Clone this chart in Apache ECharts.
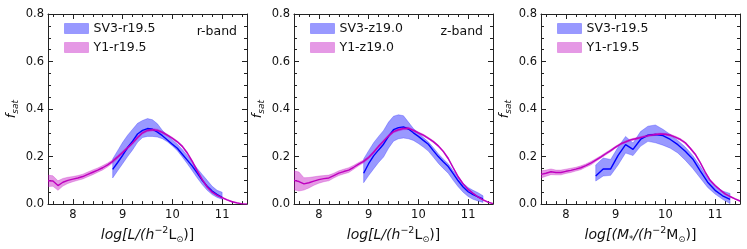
<!DOCTYPE html>
<html><head><meta charset="utf-8">
<script src="https://cdn.jsdelivr.net/npm/echarts@6/dist/echarts.min.js"></script>
<style>html,body{margin:0;padding:0;background:#fff}#c{width:747px;height:249px}</style>
</head><body><div id="c"></div>
<script>
// ---- tick labels ----
const xMajorTicks = [8, 9, 10, 11];
const xMinorTicks = [7.6,7.8,8.2,8.4,8.6,8.8,9.2,9.4,9.6,9.8,10.2,10.4,10.6,10.8,11.2,11.4];
const yTickLabels = [0, 0.2, 0.4, 0.6, 0.8];

const legendNames = [['SV3-r19.5','Y1-r19.5'], ['SV3-z19.0','Y1-z19.0'], ['SV3-r19.5','Y1-r19.5']];
const bandLabels = ['r-band', 'z-band', ''];

// ---- Y1 x grid (shared) ----
const y1X = [7.5,7.6,7.7,7.8,7.9,8.0,8.1,8.2,8.3,8.4,8.5,8.6,8.7,8.8,8.9,9.0,9.1,9.2,9.3,9.4,9.5,9.6,9.7,9.8,9.9,10.0,10.1,10.2,10.3,10.4,10.5,10.6,10.7,10.8,10.9,11.0,11.1,11.2,11.3,11.4,11.5];

// ---- Panel 1: r-band luminosity ----
const p1SV3x  = [8.8,8.9,9.0,9.1,9.2,9.3,9.4,9.5,9.6,9.7,9.8,9.9,10.0,10.1,10.2,10.3,10.4,10.5,10.6,10.7,10.8,10.9,11.0];
const p1SV3mid= [0.146,0.175,0.205,0.238,0.265,0.295,0.31,0.318,0.315,0.303,0.288,0.27,0.252,0.235,0.21,0.185,0.16,0.13,0.1,0.075,0.055,0.04,0.028];
const p1SV3hi = [0.19,0.225,0.26,0.29,0.315,0.34,0.352,0.36,0.355,0.338,0.31,0.29,0.27,0.252,0.23,0.205,0.178,0.15,0.125,0.1,0.075,0.058,0.05];
const p1SV3lo = [0.11,0.14,0.17,0.2,0.228,0.26,0.28,0.285,0.285,0.282,0.275,0.262,0.245,0.225,0.198,0.17,0.14,0.11,0.082,0.058,0.04,0.028,0.02];
const p1Y1mid = [0.098,0.097,0.078,0.092,0.1,0.105,0.11,0.116,0.125,0.134,0.143,0.153,0.165,0.18,0.198,0.217,0.237,0.257,0.28,0.3,0.31,0.313,0.31,0.302,0.29,0.277,0.262,0.243,0.215,0.18,0.14,0.103,0.072,0.05,0.037,0.027,0.018,0.01,0.005,0.001,0.0];
const p1Y1err = [0.024,0.022,0.02,0.016,0.013,0.011,0.01,0.01,0.01,0.01,0.009,0.009,0.008,0.007,0.006,0.006,0.005,0.005,0.005,0.005,0.005,0.005,0.005,0.005,0.004,0.004,0.004,0.004,0.004,0.004,0.004,0.004,0.003,0.003,0.003,0.003,0.002,0.002,0.002,0.001,0.001];

// ---- Panel 2: z-band luminosity ----
const p2SV3x  = [8.9,9.0,9.1,9.2,9.3,9.4,9.5,9.6,9.7,9.8,9.9,10.0,10.1,10.2,10.3,10.4,10.5,10.6,10.7,10.8,10.9,11.0,11.1,11.2,11.3];
const p2SV3mid= [0.13,0.17,0.203,0.228,0.252,0.285,0.313,0.322,0.325,0.316,0.3,0.285,0.268,0.252,0.225,0.2,0.178,0.158,0.128,0.098,0.072,0.052,0.04,0.03,0.022];
const p2SV3hi = [0.19,0.225,0.258,0.285,0.31,0.345,0.37,0.376,0.372,0.345,0.318,0.3,0.28,0.262,0.238,0.212,0.19,0.17,0.14,0.113,0.088,0.07,0.058,0.048,0.035];
const p2SV3lo = [0.09,0.12,0.148,0.175,0.198,0.235,0.265,0.275,0.278,0.275,0.268,0.255,0.24,0.223,0.198,0.172,0.15,0.13,0.1,0.073,0.05,0.032,0.02,0.013,0.007];
const p2Y1mid = [0.1,0.095,0.085,0.09,0.097,0.103,0.107,0.11,0.12,0.13,0.137,0.143,0.155,0.168,0.18,0.196,0.218,0.243,0.265,0.287,0.305,0.313,0.318,0.319,0.31,0.3,0.29,0.277,0.263,0.245,0.222,0.192,0.153,0.115,0.085,0.062,0.045,0.03,0.018,0.008,0.002];
const p2Y1err = [0.04,0.04,0.026,0.022,0.018,0.015,0.013,0.012,0.01,0.01,0.01,0.01,0.008,0.007,0.006,0.005,0.005,0.005,0.005,0.005,0.005,0.005,0.005,0.005,0.004,0.004,0.004,0.004,0.004,0.004,0.004,0.004,0.003,0.003,0.003,0.003,0.002,0.002,0.002,0.001,0.001];

// ---- Panel 3: stellar mass ----
const p3SV3x  = [8.6,8.75,8.9,9.05,9.2,9.35,9.5,9.65,9.8,9.95,10.1,10.25,10.4,10.55,10.7,10.85,11.0,11.15,11.3];
const p3SV3mid= [0.118,0.148,0.148,0.205,0.25,0.23,0.272,0.29,0.293,0.288,0.272,0.25,0.222,0.19,0.14,0.092,0.058,0.035,0.02];
const p3SV3hi = [0.165,0.194,0.188,0.24,0.285,0.257,0.305,0.328,0.333,0.315,0.293,0.268,0.24,0.205,0.16,0.11,0.075,0.055,0.045];
const p3SV3lo = [0.097,0.118,0.121,0.165,0.215,0.204,0.243,0.264,0.258,0.248,0.235,0.215,0.185,0.15,0.11,0.07,0.042,0.02,0.002];
const p3Y1mid = [0.125,0.13,0.136,0.133,0.133,0.138,0.142,0.147,0.153,0.162,0.172,0.185,0.198,0.212,0.225,0.24,0.253,0.262,0.27,0.275,0.28,0.285,0.29,0.293,0.295,0.294,0.29,0.282,0.272,0.258,0.235,0.21,0.175,0.135,0.1,0.078,0.06,0.043,0.032,0.022,0.013];
const p3Y1err = [0.015,0.013,0.012,0.01,0.01,0.009,0.009,0.008,0.008,0.007,0.007,0.006,0.005,0.005,0.005,0.004,0.004,0.004,0.004,0.004,0.004,0.004,0.004,0.004,0.004,0.004,0.004,0.004,0.004,0.004,0.004,0.004,0.004,0.003,0.003,0.003,0.003,0.003,0.002,0.002,0.002];

const panels = [
  {sx:p1SV3x, sm:p1SV3mid, sh:p1SV3hi, sl:p1SV3lo, ym:p1Y1mid, ye:p1Y1err},
  {sx:p2SV3x, sm:p2SV3mid, sh:p2SV3hi, sl:p2SV3lo, ym:p2Y1mid, ye:p2Y1err},
  {sx:p3SV3x, sm:p3SV3mid, sh:p3SV3hi, sl:p3SV3lo, ym:p3Y1mid, ye:p3Y1err}
];

const FONT = 'DejaVu Sans';
const AX = '#222';
const TXT = '#111';
const BLUE_FILL = 'rgba(0,0,255,0.4)', BLUE_EDGE = 'rgba(0,0,255,0.25)', BLUE_LINE = '#0000ff';
const MAG_FILL = 'rgba(191,0,191,0.4)', MAG_EDGE = 'rgba(191,0,191,0.25)', MAG_LINE = '#bf00bf';

const gridLefts = [48, 294, 541];
const xNames = [
  '{i|log[L/(h}{sup|−2}{n|L}{sub|⊙}{n|)]}',
  '{i|log[L/(h}{sup|−2}{n|L}{sub|⊙}{n|)]}',
  '{i|log[(M}{sub|*}{i|/(h}{sup|−2}{n|M}{sub|⊙}{n|)]}'
];
const nameRich = {
  i: {fontFamily: FONT, fontStyle: 'italic', fontSize: 14, color: TXT, lineHeight: 18, verticalAlign: 'middle'},
  n: {fontFamily: FONT, fontSize: 14, color: TXT, lineHeight: 18, verticalAlign: 'middle'},
  sup: {fontFamily: FONT, fontSize: 9.5, color: TXT, lineHeight: 18, verticalAlign: 'top'},
  sub: {fontFamily: FONT, fontSize: 8.5, color: TXT, lineHeight: 18, verticalAlign: 'bottom'}
};

const grid = [], xAxis = [], yAxis = [], series = [], legend = [], graphic = [];

function bandSeries(name, xi, yi, xs, lo, hi, fill, edge) {
  return {
    type: 'custom', name, xAxisIndex: xi, yAxisIndex: yi, silent: true, clip: true, z: 2,
    data: xs.map((x, i) => [x, hi[i]]),
    renderItem(params, api) {
      if (params.dataIndex !== 0) return null;
      const pts = [];
      for (let i = 0; i < xs.length; i++) pts.push(api.coord([xs[i], hi[i]]));
      for (let i = xs.length - 1; i >= 0; i--) pts.push(api.coord([xs[i], lo[i]]));
      return {type: 'polygon', shape: {points: pts}, style: {fill, stroke: edge, lineWidth: 1}};
    }
  };
}

panels.forEach((p, g) => {
  grid.push({left: gridLefts[g], top: 14, width: 199, height: 191});
  const xb = {type: 'value', gridIndex: g, min: 7.5, max: 11.5, splitLine: {show: false}};
  xAxis.push(Object.assign({}, xb, {
    position: 'bottom',
    axisLine: {show: true, lineStyle: {color: AX, width: 1}},
    axisTick: {show: true, inside: true, length: 5, customValues: xMajorTicks, lineStyle: {color: AX}},
    axisLabel: {customValues: xMajorTicks, margin: 5, fontFamily: FONT, fontSize: 11.5, color: TXT},
    name: xNames[g], nameLocation: 'middle', nameGap: 14,
    nameTextStyle: {rich: nameRich}
  }));
  xAxis.push(Object.assign({}, xb, {
    position: 'bottom', axisLine: {show: false},
    axisTick: {show: true, inside: true, length: 3, customValues: xMinorTicks, lineStyle: {color: AX}},
    axisLabel: {show: false}
  }));
  xAxis.push(Object.assign({}, xb, {
    position: 'top',
    axisLine: {show: true, lineStyle: {color: AX, width: 1}},
    axisTick: {show: true, inside: true, length: 5, customValues: xMajorTicks, lineStyle: {color: AX}},
    axisLabel: {show: false}
  }));
  xAxis.push(Object.assign({}, xb, {
    position: 'top', axisLine: {show: false},
    axisTick: {show: true, inside: true, length: 3, customValues: xMinorTicks, lineStyle: {color: AX}},
    axisLabel: {show: false}
  }));
  const yb = {type: 'value', gridIndex: g, min: yTickLabels[0], max: yTickLabels[yTickLabels.length - 1], interval: 0.2,
    splitLine: {show: false}, minorSplitLine: {show: false},
    axisLine: {show: true, lineStyle: {color: AX, width: 1}},
    axisTick: {show: true, inside: true, length: 5, lineStyle: {color: AX}},
    minorTick: {show: true, splitNumber: 4, length: 3, lineStyle: {color: AX}}};
  yAxis.push(Object.assign({}, yb, {
    position: 'left',
    axisLabel: {margin: 4, fontFamily: FONT, fontSize: 11.5, color: TXT, formatter: v => v.toFixed(1)},
    name: '{f|f}{s|sat}', nameLocation: 'middle', nameGap: 28, nameRotate: 90,
    nameTextStyle: {rich: {
      f: {fontFamily: FONT, fontStyle: 'italic', fontSize: 13, color: TXT, lineHeight: 16, verticalAlign: 'middle'},
      s: {fontFamily: FONT, fontStyle: 'italic', fontSize: 9, color: TXT, lineHeight: 16, verticalAlign: 'bottom'}
    }}
  }));
  yAxis.push(Object.assign({}, yb, {position: 'right', axisLabel: {show: false}}));

  const xi = 4 * g, yi = 2 * g;
  const y1lo = p.ym.map((v, i) => v - p.ye[i]);
  const y1hi = p.ym.map((v, i) => v + p.ye[i]);
  series.push(bandSeries(legendNames[g][0], xi, yi, p.sx, p.sl, p.sh, BLUE_FILL, BLUE_EDGE));
  series.push(bandSeries(legendNames[g][1], xi, yi, y1X, y1lo, y1hi, MAG_FILL, MAG_EDGE));
  series.push({type: 'line', xAxisIndex: xi, yAxisIndex: yi, data: p.sx.map((x, i) => [x, p.sm[i]]),
    showSymbol: false, silent: true, z: 3, lineStyle: {color: BLUE_LINE, width: 1.4}, itemStyle: {color: BLUE_LINE}});
  series.push({type: 'line', xAxisIndex: xi, yAxisIndex: yi, data: y1X.map((x, i) => [x, p.ym[i]]),
    showSymbol: false, silent: true, z: 4, lineStyle: {color: MAG_LINE, width: 1.4}, itemStyle: {color: MAG_LINE}});

  legend.push({
    orient: 'vertical', left: gridLefts[g] + 11, top: 17, itemWidth: 24, itemHeight: 10, itemGap: 6,
    selectedMode: false, icon: 'rect',
    textStyle: {fontFamily: FONT, fontSize: 12.5, color: TXT},
    data: [
      {name: legendNames[g][0], itemStyle: {color: BLUE_FILL, borderColor: BLUE_EDGE, borderWidth: 1}},
      {name: legendNames[g][1], itemStyle: {color: MAG_FILL, borderColor: MAG_EDGE, borderWidth: 1}}
    ]
  });
  if (bandLabels[g]) {
    graphic.push({type: 'text', right: 747 - (gridLefts[g] + 189), top: 25,
      style: {text: bandLabels[g], fontFamily: FONT, fontSize: 12.5, fill: TXT}});
  }
});

const chart = echarts.init(document.getElementById('c'), null, {renderer: 'canvas'});
chart.setOption({animation: false, backgroundColor: '#fff', grid, xAxis, yAxis, series, legend, graphic});
</script>
</body></html>
